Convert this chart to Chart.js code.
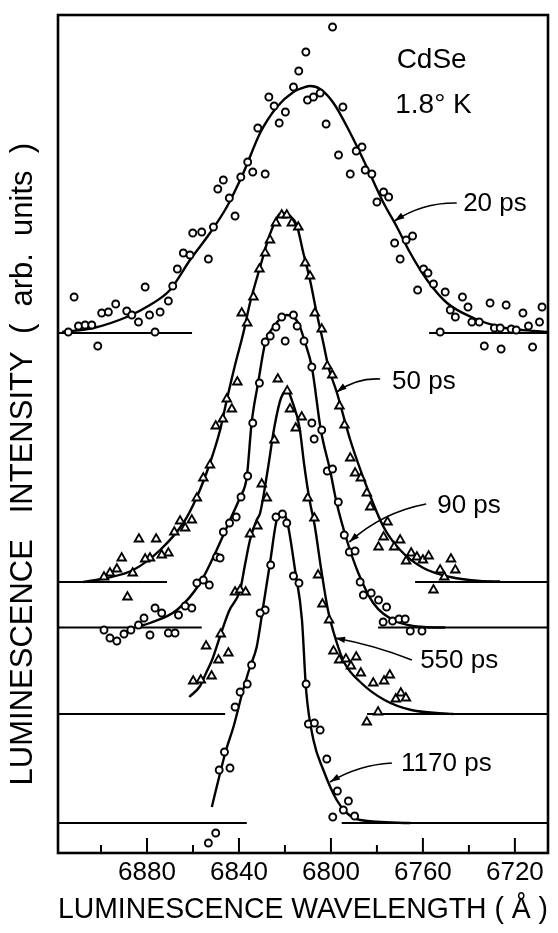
<!DOCTYPE html>
<html><head><meta charset="utf-8">
<script src="https://cdn.jsdelivr.net/npm/chart.js@4.4.1/dist/chart.umd.min.js"></script>
<style>html,body{margin:0;padding:0;background:#fff;}#wrap{width:558px;height:933px;}</style>
</head><body><div id="wrap"><canvas id="c" width="558" height="933"></canvas></div>
<script>
// ---- axis ----
const tickValues = [6900, 6880, 6860, 6840, 6820, 6800, 6780, 6760, 6740, 6720];
const tickLabels = ['', '6880', '', '6840', '', '6800', '', '6760', '', '6720'];
const xRange = [6705.6, 6918.7];
const yRange = [0, 838];

// ---- 20 ps (circles) ----
const fit20 = [[6916.9,521],[6903.3,525],[6888.8,536],[6878.7,548],[6870.0,563],[6861.3,593],[6852.6,620],[6845.3,646],[6838.1,680],[6830.8,720],[6823.5,746],[6816.3,761],[6811.2,766],[6809.0,767],[6804.7,764],[6798.9,750],[6791.6,720],[6784.4,686],[6777.1,650],[6771.3,626],[6765.5,600],[6758.2,573],[6749.5,550],[6738.0,535],[6726.4,526],[6711.9,522],[6705.6,521]];
const pts20 = [[6914.2,521],[6911.7,556],[6909.8,527],[6906.9,528],[6904.0,528],[6901.4,507],[6899.7,540],[6896.8,541],[6893.6,549],[6888.8,542],[6886.6,538],[6883.7,531],[6880.8,566],[6878.9,538],[6876.5,521],[6874.3,541],[6870.7,552],[6868.8,567],[6866.8,584],[6864.2,600],[6861.3,598],[6860.1,620],[6856.2,621],[6853.3,594],[6851.1,626],[6849.2,664],[6846.8,673],[6844.2,655],[6841.7,637],[6839.2,676],[6836.2,691],[6834.0,681],[6831.8,725],[6828.6,679],[6827.0,756],[6824.7,747],[6822.5,730],[6819.8,741],[6816.3,766],[6814.0,782],[6810.9,801],[6810.2,753],[6807.6,756],[6804.7,760],[6802.1,729],[6799.3,826],[6796.7,698],[6794.8,746],[6791.6,679],[6789.0,702],[6786.5,706],[6785.1,683],[6782.2,679],[6780.0,651],[6777.1,661],[6774.9,656],[6772.3,610],[6769.9,594],[6767.3,613],[6764.5,617],[6762.3,563],[6759.7,584],[6757.8,580],[6755.4,569],[6752.5,521],[6750.3,561],[6748.1,543],[6745.9,536],[6742.8,556],[6740.4,546],[6738.7,531],[6735.5,531],[6733.3,507],[6730.8,550],[6728.9,525],[6726.4,525],[6726.0,504],[6723.8,548],[6721.6,524],[6719.4,523],[6716.5,540],[6714.1,527],[6712.3,506],[6709.3,531],[6708.2,546]];

// ---- 50 ps (triangles) ----
const fit50 = [[6907.7,271],[6897.5,275],[6886.0,283],[6874.3,303],[6864.2,330],[6858.3,356],[6852.6,390],[6848.2,423],[6845.3,453],[6841.7,488],[6838.1,520],[6835.2,550],[6830.8,586],[6826.5,619],[6821.4,640],[6817.8,637],[6814.9,628],[6812.0,600],[6809.1,573],[6806.2,540],[6803.3,510],[6801.1,486],[6797.5,461],[6791.6,413],[6784.4,366],[6777.1,326],[6769.9,303],[6759.8,285],[6748.1,276],[6735.1,272],[6726.4,271.5]];
const pts50 = [[6821.4,638],[6819.2,638],[6823.9,630],[6817.0,630],[6814.2,626],[6826.5,613],[6828.6,600],[6831.1,584],[6833.7,556],[6838.8,540],[6836.4,530],[6811.2,590],[6809.1,577],[6807.0,540],[6804.0,524],[6801.6,487],[6840.7,471],[6843.1,444],[6845.3,454],[6847.0,434],[6850.1,427],[6852.6,388],[6855.5,375],[6858.3,355],[6860.5,333],[6863.4,325],[6865.6,332],[6868.1,321],[6870.7,300],[6873.6,298],[6876.0,314],[6878.7,295],[6880.8,294],[6883.5,314],[6886.2,280],[6891.0,295],[6893.1,284],[6896.1,280],[6898.7,276],[6888.5,256],[6799.4,478],[6796.3,447],[6794.1,428],[6791.6,395],[6789.5,380],[6787.0,375],[6784.4,360],[6782.9,346],[6775.4,331],[6777.1,316],[6779.3,306],[6772.5,306],[6769.9,313],[6767.3,292],[6765.1,300],[6762.6,296],[6760.0,293],[6757.5,297],[6752.5,283],[6750.7,276],[6747.8,294],[6745.9,283],[6755.4,263]];

// ---- 90 ps (circles) ----
const fit90 = [[6884.5,226],[6878.7,230],[6867.0,243],[6856.9,270],[6849.7,303],[6843.9,333],[6839.5,356],[6836.6,376],[6834.5,430],[6831.6,471],[6828.6,510],[6825.0,526],[6819.2,538],[6814.2,530],[6811.2,510],[6808.3,486],[6804.4,423],[6800.4,383],[6797.5,350],[6793.1,313],[6788.1,280],[6781.6,250],[6772.8,233],[6759.8,226],[6750.3,225.5]];
const pts90 = [[6821.4,536],[6816.3,538],[6823.9,526],[6826.4,517],[6828.6,511],[6819.9,512],[6814.7,527],[6811.7,512],[6808.3,486],[6831.1,470],[6834.0,430],[6836.2,377],[6839.1,356],[6841.2,336],[6844.1,330],[6846.8,321],[6849.7,296],[6848.2,295],[6855.5,273],[6852.9,268],[6858.3,270],[6860.5,245],[6863.4,247],[6866.3,238],[6873.6,240],[6876.5,245],[6881.3,235],[6883.7,228],[6878.7,218],[6870.7,220],[6867.8,220],[6898.7,223],[6896.1,215],[6893.1,212],[6890.0,219],[6887.0,223],[6808.3,430],[6807.3,414],[6804.0,423],[6801.6,382],[6799.3,384],[6796.8,351],[6794.2,318],[6792.0,301],[6789.5,302],[6787.3,271],[6785.9,258],[6782.5,260],[6779.3,253],[6775.8,246],[6777.3,231],[6773.2,232],[6770.4,234],[6767.7,234],[6765.5,222],[6760.4,222]];

// ---- 550 ps (triangles) ----
const fit550 = [[6861.6,156],[6856.9,167],[6854.3,180],[6851.7,193],[6847.9,219],[6844.3,242],[6839.5,263],[6837.4,288],[6835.2,313],[6832.3,333],[6830.8,340],[6827.5,383],[6824.6,426],[6821.7,455],[6819.0,462],[6816.6,450],[6813.7,426],[6811.5,386],[6809.3,353],[6807.1,328],[6804.2,283],[6801.3,243],[6797.7,212],[6794.1,190],[6786.8,170],[6776.7,153],[6765.1,143],[6746.8,139]];
const pts550 = [[6823.1,474],[6819.0,462],[6817.8,444],[6812.7,436],[6815.3,425],[6824.6,413],[6830.1,369],[6827.9,355],[6832.0,327],[6835.2,319],[6810.1,355],[6807.2,335],[6841.7,261],[6839.5,263],[6837.1,261],[6847.9,219],[6854.3,207],[6844.6,200],[6848.9,193],[6851.9,177],[6856.6,173],[6859.9,172],[6805.6,278],[6803.7,249],[6800.8,233],[6798.9,202],[6796.4,193],[6793.5,194],[6791.3,187],[6789.0,196],[6787.0,180],[6781.6,170],[6776.9,172],[6774.4,178],[6771.8,154],[6769.6,160],[6767.4,155],[6779.5,141],[6784.4,131]];

// ---- 1170 ps (circles) ----
const fit1170 = [[6851.8,46],[6848.2,80],[6845.6,103],[6842.4,126],[6838.2,163],[6835.2,186],[6832.3,206],[6829.5,246],[6826.5,290],[6823.6,333],[6821.4,340],[6819.2,333],[6815.6,283],[6812.6,233],[6810.8,163],[6807.6,113],[6803.3,83],[6797.5,53],[6793.1,40],[6787.3,33],[6765.5,30]];
const pts1170 = [[6823.9,336],[6821.1,339],[6819.2,330],[6826.2,288],[6828.6,243],[6830.8,240],[6834.5,188],[6836.4,169],[6839.5,161],[6841.7,146],[6846.3,101],[6848.6,83],[6843.9,85],[6850.1,20],[6853.3,10],[6816.3,277],[6813.9,270],[6810.8,169],[6809.8,129],[6807.2,130],[6804.7,123],[6801.8,94],[6797.2,62],[6792.4,52],[6794.6,43],[6789.7,37],[6799.2,36]];

// ---- baselines (level, end of left segment, start of right segment) ----
const baseLevel = [520, 271, 225.5, 139, 30];
const baseLeftEnd = [6860.4, 6871.3, 6856.2, 6846.0, 6836.6];
const baseRightStart = [6757.3, 6763.4, 6779.5, 6784.3, 6795.3];

// ---- annotations ----
const delayLabels = ['20 ps', '50 ps', '90 ps', '550 ps', '1170 ps'];
const labelX = [6742.5, 6773.4, 6753.8, 6761.2, 6769.5];
const labelY = [649.5, 471, 347.5, 192, 89];
const arrowTailX = [6745.3, 6778.6, 6758.6, 6764.8, 6773.5];
const arrowTailY = [650, 474, 349, 193, 90];
const arrowTipX = [6772.4, 6797.5, 6792.0, 6798.2, 6800.4];
const arrowTipY = [632, 461, 311, 215, 71];
const arrowBend = [10, 8, 12, 4, 8];
const sampleText = ['CdSe', '1.8\u00B0 K'];
const sampleX = [6756.2, 6755.4];
const sampleY = [793, 748];

const FONT = '"Liberation Sans", Arial, Helvetica, sans-serif';
const toXY = arr => arr.map(p => ({x: p[0], y: p[1]}));

const datasets = [];
const fits = [fit20, fit50, fit90, fit550, fit1170];
const pts = [pts20, pts50, pts90, pts550, pts1170];
const styles = ['circle', 'triangle', 'circle', 'triangle', 'circle'];
pts.forEach((p, i) => datasets.push({
  data: toXY(p), showLine: false, order: 1,
  pointStyle: styles[i], pointRadius: styles[i] === 'circle' ? 3.5 : 4.9,
  pointBorderWidth: 1.9, pointBorderColor: '#000', pointBackgroundColor: '#fff'
}));
fits.forEach(f => datasets.push({
  data: toXY(f), showLine: true, order: 2, pointRadius: 0,
  borderColor: '#000', borderWidth: 2.4, cubicInterpolationMode: 'monotone'
}));
baseLevel.forEach((lv, i) => datasets.push({
  data: [{x: xRange[1], y: lv}, {x: baseLeftEnd[i], y: lv}, {x: (baseLeftEnd[i] + baseRightStart[i]) / 2, y: null},
         {x: baseRightStart[i], y: lv}, {x: xRange[0], y: lv}],
  showLine: true, spanGaps: false, order: 3, pointRadius: 0, borderColor: '#000', borderWidth: 2.2
}));

function drawArrow(ctx, x0, y0, x1, y1, bend) {
  const dx = x1 - x0, dy = y1 - y0, L = Math.hypot(dx, dy);
  const nx = -dy / L, ny = dx / L;
  const cx = (x0 + x1) / 2 + nx * bend, cy = (y0 + y1) / 2 + ny * bend;
  ctx.beginPath(); ctx.moveTo(x0, y0); ctx.quadraticCurveTo(cx, cy, x1, y1); ctx.stroke();
  const a = Math.atan2(y1 - cy, x1 - cx), hl = 10, hw = 3.2;
  ctx.beginPath(); ctx.moveTo(x1, y1);
  ctx.lineTo(x1 - hl * Math.cos(a) + hw * Math.sin(a), y1 - hl * Math.sin(a) - hw * Math.cos(a));
  ctx.lineTo(x1 - hl * Math.cos(a) - hw * Math.sin(a), y1 - hl * Math.sin(a) + hw * Math.cos(a));
  ctx.closePath(); ctx.fill();
}

const decor = {
  id: 'decor',
  afterDatasetsDraw(chart) {
    const {ctx, chartArea: a, scales: {x, y}} = chart;
    ctx.save();
    ctx.strokeStyle = '#000'; ctx.fillStyle = '#000';
    ctx.lineWidth = 2.6;
    ctx.strokeRect(a.left, a.top, a.right - a.left, a.bottom - a.top);
    ctx.lineWidth = 2;
    tickValues.forEach((v, i) => {
      const px = x.getPixelForValue(v);
      const len = tickLabels[i] ? 15 : 8;
      ctx.beginPath(); ctx.moveTo(px, a.bottom); ctx.lineTo(px, a.bottom - len); ctx.stroke();
    });
    ctx.lineWidth = 1.7;
    delayLabels.forEach((t, i) => drawArrow(ctx, x.getPixelForValue(arrowTailX[i]), y.getPixelForValue(arrowTailY[i]),
      x.getPixelForValue(arrowTipX[i]), y.getPixelForValue(arrowTipY[i]), arrowBend[i]));
    ctx.textBaseline = 'middle';
    ctx.textAlign = 'left';
    ctx.font = '26px ' + FONT;
    delayLabels.forEach((t, i) => ctx.fillText(t, x.getPixelForValue(labelX[i]), y.getPixelForValue(labelY[i])));
    ctx.textAlign = 'center';
    ctx.font = '28px ' + FONT;
    sampleText.forEach((t, i) => ctx.fillText(t, x.getPixelForValue(sampleX[i]), y.getPixelForValue(sampleY[i])));
    ctx.restore();
  }
};

new Chart(document.getElementById('c'), {
  type: 'scatter',
  data: {datasets},
  options: {
    responsive: false, animation: false, devicePixelRatio: 1,
    layout: {padding: {top: 15, right: 10, left: 0, bottom: 0}},
    plugins: {legend: {display: false}, tooltip: {enabled: false}},
    scales: {
      x: {
        type: 'linear', reverse: true, min: xRange[0], max: xRange[1],
        afterBuildTicks: s => { s.ticks = tickValues.map(v => ({value: v})); },
        afterFit: s => { s.height = 80; },
        grid: {display: false, drawTicks: false}, border: {display: false},
        ticks: {autoSkip: false, maxRotation: 0, padding: 4, color: '#000',
          font: {size: 26, family: FONT},
          callback: (v, i) => tickLabels[tickValues.indexOf(v)] || ''},
        title: {display: true, text: 'LUMINESCENCE WAVELENGTH ( \u00C5 )', color: '#000',
          font: {size: 30, family: FONT}, padding: {top: 0, bottom: 5}}
      },
      y: {
        min: yRange[0], max: yRange[1],
        afterFit: s => { s.width = 58; },
        grid: {display: false, drawTicks: false}, border: {display: false},
        ticks: {display: false},
        title: {display: true, text: 'LUMINESCENCE   INTENSITY  (  arb.  units  )       ', color: '#000',
          font: {size: 31, family: FONT}, padding: {top: 5, bottom: 0}}
      }
    }
  },
  plugins: [decor]
});
</script></body></html>
